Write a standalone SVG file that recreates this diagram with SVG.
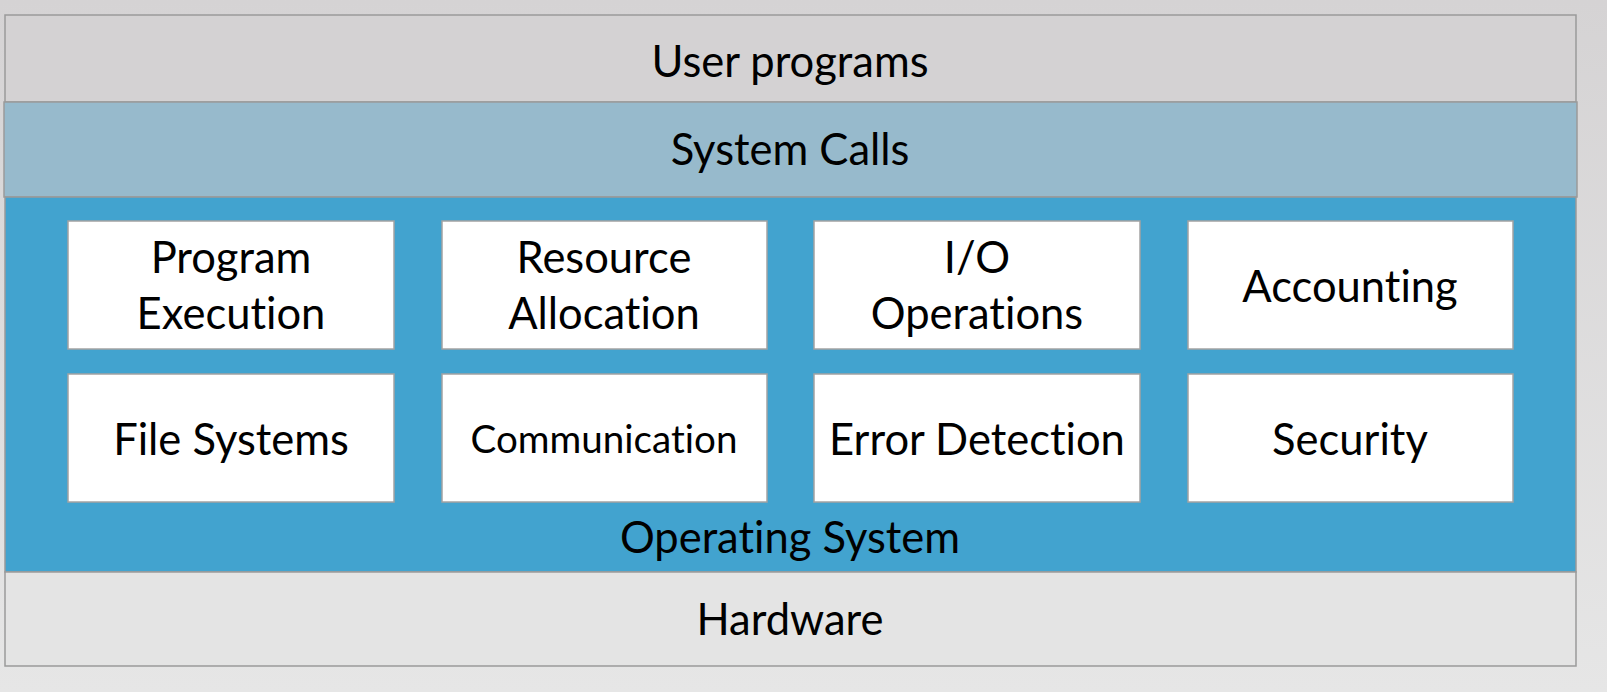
<svg xmlns="http://www.w3.org/2000/svg" width="1607" height="692" viewBox="0 0 1607 692">
  <defs>
    <linearGradient id="bg" x1="0" y1="0" x2="0" y2="1">
      <stop offset="0" stop-color="#d5d3d4"/>
      <stop offset="1" stop-color="#e6e6e6"/>
    </linearGradient>
    <style>
      .layer { stroke: #9a9a9a; stroke-width: 1.5; }
      .svc { fill: #ffffff; stroke: #a3a3a3; stroke-width: 1.5; }
      text { font-family: Lato, "Open Sans", "DejaVu Sans", sans-serif; fill: #000000; text-anchor: middle; font-size: 43.5px; font-variant-ligatures: none; }
      .small { font-size: 38.6px; }
    </style>
  </defs>

  <rect x="0" y="0" width="1607" height="692" fill="url(#bg)"/>

  <!-- stacked layers -->
  <g id="user-programs">
    <rect class="layer" x="5" y="15" width="1571" height="87" fill="#d4d2d3"/>
    <text x="790" y="77">User programs</text>
  </g>
  <g id="system-calls">
    <rect class="layer" x="4" y="102" width="1573" height="95" fill="#97bacc"/>
    <text x="790" y="165">System Calls</text>
  </g>
  <g id="operating-system">
    <rect class="layer" x="5" y="197" width="1571" height="375" fill="#42a3cf"/>
    <text x="790" y="553">Operating System</text>
  </g>
  <g id="hardware">
    <rect class="layer" x="5" y="572" width="1571" height="94" fill="#e4e4e4"/>
    <text x="790" y="635">Hardware</text>
  </g>

  <!-- operating system services -->
  <g id="program-execution">
    <rect class="svc" x="68" y="221" width="326" height="128"/>
    <text x="231" y="273">Program</text>
    <text x="231" y="329">Execution</text>
  </g>
  <g id="resource-allocation">
    <rect class="svc" x="442" y="221" width="325" height="128"/>
    <text x="604" y="273">Resource</text>
    <text x="604" y="329">Allocation</text>
  </g>
  <g id="io-operations">
    <rect class="svc" x="814" y="221" width="326" height="128"/>
    <text x="977" y="273">I/O</text>
    <text x="977" y="329">Operations</text>
  </g>
  <g id="accounting">
    <rect class="svc" x="1188" y="221" width="325" height="128"/>
    <text x="1350" y="302">Accounting</text>
  </g>
  <g id="file-systems">
    <rect class="svc" x="68" y="374" width="326" height="128"/>
    <text x="231" y="455">File Systems</text>
  </g>
  <g id="communication">
    <rect class="svc" x="442" y="374" width="325" height="128"/>
    <text class="small" x="604" y="453">Communication</text>
  </g>
  <g id="error-detection">
    <rect class="svc" x="814" y="374" width="326" height="128"/>
    <text x="977" y="455">Error Detection</text>
  </g>
  <g id="security">
    <rect class="svc" x="1188" y="374" width="325" height="128"/>
    <text x="1350" y="455">Security</text>
  </g>

  <!-- no connectors in this layered diagram -->
  <g id="connectors"/>
</svg>
